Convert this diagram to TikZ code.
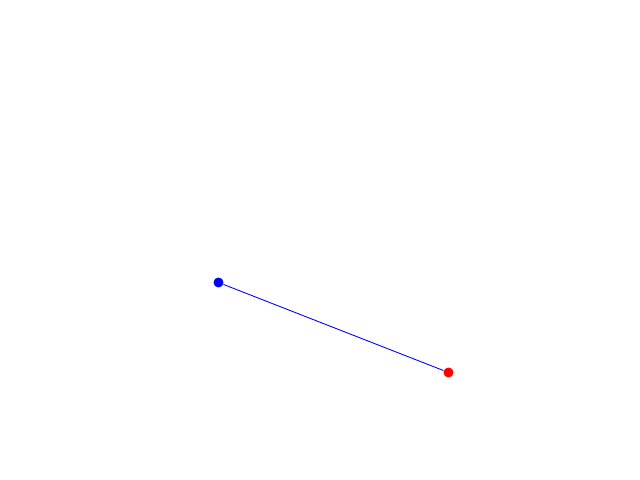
\documentclass[tikz,border=0pt]{standalone}
\begin{document}
\begin{tikzpicture}[x=0.02cm,y=-0.02cm,inner sep=0pt]
  \tikzset{dot/.style={circle,minimum size=0.2cm}}
  \useasboundingbox(0,0)rectangle(640,480);
  \node[dot,fill=blue](start) at (218.5,282.5) {};
  \node[dot,fill=red](end) at (448.5,372.5) {};
  \draw[blue,line width=0.5pt](start)--(end);
\end{tikzpicture}
\end{document}
